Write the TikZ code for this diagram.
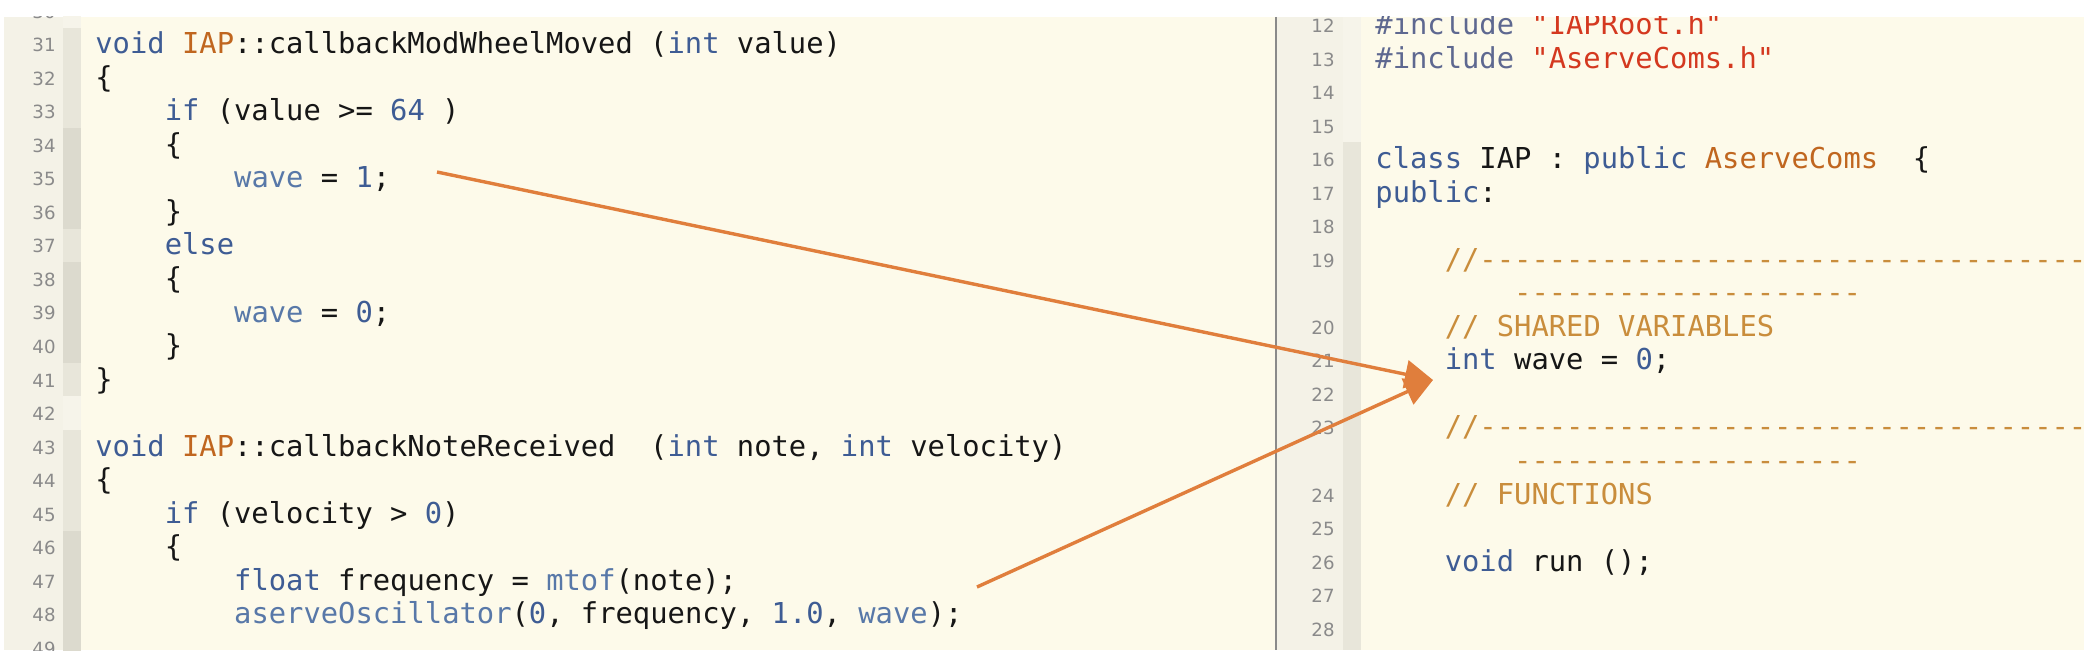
\documentclass[tikz,border=0pt]{standalone}
\usepackage{fontspec}
\usetikzlibrary{arrows.meta}

\newfontfamily\codefont{DejaVu Sans Mono}[Ligatures=TeXOff]
\newfontfamily\gutterfont{DejaVu Sans}

\definecolor{paper}{HTML}{FDFAEA}
\definecolor{gutter}{HTML}{F4F2E7}
\definecolor{foldlight}{HTML}{F6F4EA}
\definecolor{foldmid}{HTML}{E8E6DA}
\definecolor{folddark}{HTML}{DCDACE}
\definecolor{lnumgray}{HTML}{8A8A8A}
\definecolor{kwblue}{HTML}{3E5C94}
\definecolor{varblue}{HTML}{5878A8}
\definecolor{clsorange}{HTML}{C0661F}
\definecolor{strred}{HTML}{D4381F}
\definecolor{preblue}{HTML}{5E6890}
\definecolor{comtan}{HTML}{C98D3C}
\definecolor{codeblack}{HTML}{161616}
\definecolor{arroworange}{HTML}{E07E3C}
\definecolor{divider}{HTML}{8A8A8A}

\newcommand\ckw[1]{\textcolor{kwblue}{#1}}
\newcommand\cvar[1]{\textcolor{varblue}{#1}}
\newcommand\ccls[1]{\textcolor{clsorange}{#1}}
\newcommand\cstr[1]{\textcolor{strred}{#1}}
\newcommand\cpre[1]{\textcolor{preblue}{#1}}
\newcommand\ccom[1]{\textcolor{comtan}{#1}}

\begin{document}
\begin{tikzpicture}[x=0.5pt,y=-0.5pt,
  code/.style={anchor=base west,inner sep=0pt,text=codeblack,font=\codefont\fontsize{14.4pt}{16pt}\selectfont},
  lnum/.style={anchor=base east,inner sep=0pt,text=lnumgray,font=\gutterfont\fontsize{9.1pt}{10pt}\selectfont},
  pointer/.style={draw=arroworange,line width=1.7pt,-{Triangle[length=14pt,width=14pt]}}]

\useasboundingbox (0,0) rectangle (2084,668);
\fill[white] (0,0) rectangle (2084,668);

% left editor
\begin{scope}
\clip (4,17) rectangle (1275,650);
\fill[paper] (4,17) rectangle (1275,650);
\fill[gutter] (4,17) rectangle (63,650);
\foreach \a/\b/\c in {30/31/foldlight,31/34/foldmid,34/37/folddark,37/38/foldmid,38/41/folddark,41/42/foldmid,42/43/foldlight,43/46/foldmid,46/50/folddark}
  \fill[\c] (63,{28+33.5*(\a-31)}) rectangle (81,{28+33.5*(\b-31)});
\foreach \n in {30,...,49}
  \node[lnum] (ln\n) at (56,{52+33.5*(\n-31)}) {\n};

\node[code] (modwheel) at (95,54) {\ckw{void} \ccls{IAP}::callbackModWheelMoved (\ckw{int} value)};
\node[code] (open32) at (95,87.5) {\{};
\node[code] (ifvalue) at (164.4,121) {\ckw{if} (value >= \ckw{64} )};
\node[code] (open34) at (164.4,154.5) {\{};
\node[code] (waveone) at (233.8,188) {\cvar{wave} = \ckw{1};};
\node[code] (close36) at (164.4,221.5) {\}};
\node[code] (else37) at (164.4,255) {\ckw{else}};
\node[code] (open38) at (164.4,288.5) {\{};
\node[code] (wavezero) at (233.8,322) {\cvar{wave} = \ckw{0};};
\node[code] (close40) at (164.4,355.5) {\}};
\node[code] (close41) at (95,389) {\}};
\node[code] (noterecv) at (95,456) {\ckw{void} \ccls{IAP}::callbackNoteReceived~~(\ckw{int} note, \ckw{int} velocity)};
\node[code] (open44) at (95,489.5) {\{};
\node[code] (ifvel) at (164.4,523) {\ckw{if} (velocity > \ckw{0})};
\node[code] (open46) at (164.4,556.5) {\{};
\node[code] (freq) at (233.8,590) {\ckw{float} frequency = \cvar{mtof}(note);};
\node[code] (osc) at (233.8,623.5) {\cvar{aserveOscillator}(\ckw{0}, frequency, \ckw{1.0}, \cvar{wave});};
\end{scope}

% right editor
\begin{scope}
\clip (1277,17) rectangle (2084,650);
\fill[gutter] (1277,17) rectangle (2084,650);
\fill[paper] (1361,17) rectangle (2084,650);
\fill[foldlight] (1343,17) rectangle (1361,142);
\fill[foldmid] (1343,142) rectangle (1361,650);
\foreach \n/\r in {12/0,13/1,14/2,15/3,16/4,17/5,18/6,19/7,20/9,21/10,22/11,23/12,24/14,25/15,26/16,27/17,28/18}
  \node[lnum] (rn\n) at (1335,{33+33.5*\r}) {\n};

\node[code] (incroot) at (1375,35) {\cpre{\#include} \cstr{"IAPRoot.h"}};
\node[code] (inccoms) at (1375,68.5) {\cpre{\#include} \cstr{"AserveComs.h"}};
\node[code] (classhead) at (1375,169) {\ckw{class} IAP : \ckw{public} \ccls{AserveComs}~~\{};
\node[code] (publicsec) at (1375,202.5) {\ckw{public}:};
\node[code] (rulea) at (1444.4,269.5) {\ccom{//------------------------------------}};
\node[code] (ruleawrap) at (1513.8,303) {\ccom{--------------------}};
\node[code] (sharedvar) at (1444.4,336.5) {\ccom{// SHARED VARIABLES}};
\node[code] (wavedecl) at (1444.4,370) {\ckw{int} wave = \ckw{0};};
\node[code] (ruleb) at (1444.4,437) {\ccom{//------------------------------------}};
\node[code] (rulebwrap) at (1513.8,470.5) {\ccom{--------------------}};
\node[code] (functions) at (1444.4,504) {\ccom{// FUNCTIONS}};
\node[code] (runfn) at (1444.4,571) {\ckw{void} run ();};
\end{scope}

\draw[divider,line width=1pt] (1276,17) -- (1276,650);

% arrows to the shared variable
\coordinate (fromwave) at (437,172);
\coordinate (fromosc) at (977,587);
\coordinate (towave) at (1433,380);
\draw[pointer] (fromwave) -- (towave);
\draw[pointer] (fromosc) -- (towave);

\end{tikzpicture}
\end{document}
